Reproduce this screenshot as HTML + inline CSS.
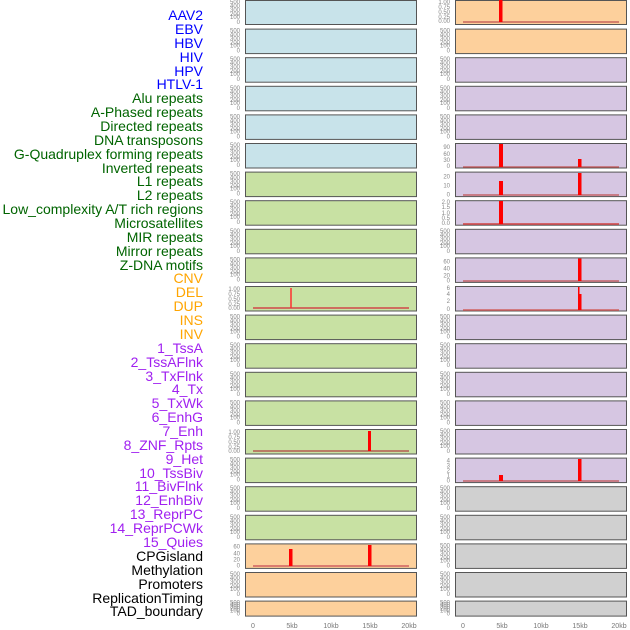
<!DOCTYPE html>
<html><head><meta charset="utf-8"><style>
html,body{margin:0;padding:0;background:#fff;}
svg{display:block;font-family:"Liberation Sans",sans-serif;}
.l text{font-size:14px;text-anchor:end;}
.t text{font-size:6px;fill:#888;text-anchor:end;}
.x text{font-size:7px;fill:#777;text-anchor:middle;}
.bl{fill:#c8e3ea}.gr{fill:#c8e1a3}.or{fill:#fdd09c}.pu{fill:#d6c6e2}.gy{fill:#d0d0d0}
rect.p{stroke:#555;stroke-width:1}
</style></head><body>
<svg width="630" height="630" viewBox="0 0 630 630">
<g class="l">
<g fill="#0000ff">
<text x="203" y="20">AAV2</text><text x="203" y="34">EBV</text><text x="203" y="48">HBV</text><text x="203" y="62">HIV</text><text x="203" y="76">HPV</text><text x="203" y="89">HTLV-1</text></g>
<g fill="#006400">
<text x="203" y="103">Alu repeats</text><text x="203" y="117">A-Phased repeats</text><text x="203" y="131">Directed repeats</text><text x="203" y="145">DNA transposons</text><text x="203" y="159">G-Quadruplex forming repeats</text><text x="203" y="173">Inverted repeats</text><text x="203" y="186">L1 repeats</text><text x="203" y="200">L2 repeats</text><text x="203" y="214">Low_complexity A/T rich regions</text><text x="203" y="228">Microsatellites</text><text x="203" y="242">MIR repeats</text><text x="203" y="256">Mirror repeats</text><text x="203" y="270">Z-DNA motifs</text></g>
<g fill="#ffa500">
<text x="203" y="283">CNV</text><text x="203" y="297">DEL</text><text x="203" y="311">DUP</text><text x="203" y="325">INS</text><text x="203" y="339">INV</text></g>
<g fill="#a020f0">
<text x="203" y="353">1_TssA</text><text x="203" y="367">2_TssAFlnk</text><text x="203" y="381">3_TxFlnk</text><text x="203" y="394">4_Tx</text><text x="203" y="408">5_TxWk</text><text x="203" y="422">6_EnhG</text><text x="203" y="436">7_Enh</text><text x="203" y="450">8_ZNF_Rpts</text><text x="203" y="464">9_Het</text><text x="203" y="478">10_TssBiv</text><text x="203" y="491">11_BivFlnk</text><text x="203" y="505">12_EnhBiv</text><text x="203" y="519">13_ReprPC</text><text x="203" y="533">14_ReprPCWk</text><text x="203" y="547">15_Quies</text></g>
<g fill="#000">
<text x="203" y="561">CPGisland</text><text x="203" y="575">Methylation</text><text x="203" y="589">Promoters</text><text x="203" y="603">ReplicationTiming</text><text x="203" y="616">TAD_boundary</text></g>
</g>

<!-- panels -->
<g>
<rect class="p bl" x="245.5" y="0.5" width="171" height="24"/>
<rect class="p bl" x="245.5" y="29.1" width="171" height="24.5"/>
<rect class="p bl" x="245.5" y="57.7" width="171" height="24.5"/>
<rect class="p bl" x="245.5" y="86.3" width="171" height="24.5"/>
<rect class="p bl" x="245.5" y="114.9" width="171" height="24.5"/>
<rect class="p bl" x="245.5" y="143.5" width="171" height="24.5"/>
<rect class="p gr" x="245.5" y="172.1" width="171" height="24.5"/>
<rect class="p gr" x="245.5" y="200.7" width="171" height="24.5"/>
<rect class="p gr" x="245.5" y="229.3" width="171" height="24.5"/>
<rect class="p gr" x="245.5" y="257.9" width="171" height="24.5"/>
<rect class="p gr" x="245.5" y="286.5" width="171" height="24.5"/>
<rect class="p gr" x="245.5" y="315.1" width="171" height="24.5"/>
<rect class="p gr" x="245.5" y="343.7" width="171" height="24.5"/>
<rect class="p gr" x="245.5" y="372.3" width="171" height="24.5"/>
<rect class="p gr" x="245.5" y="400.9" width="171" height="24.5"/>
<rect class="p gr" x="245.5" y="429.5" width="171" height="24.5"/>
<rect class="p gr" x="245.5" y="458.1" width="171" height="24.5"/>
<rect class="p gr" x="245.5" y="486.7" width="171" height="24.5"/>
<rect class="p gr" x="245.5" y="515.3" width="171" height="24.5"/>
<rect class="p or" x="245.5" y="543.9" width="171" height="24.5"/>
<rect class="p or" x="245.5" y="572.5" width="171" height="24.5"/>
<rect class="p or" x="245.5" y="601.1" width="171" height="15"/>

<rect class="p or" x="455.5" y="0.5" width="171" height="24"/>
<rect class="p or" x="455.5" y="29.1" width="171" height="24.5"/>
<rect class="p pu" x="455.5" y="57.7" width="171" height="24.5"/>
<rect class="p pu" x="455.5" y="86.3" width="171" height="24.5"/>
<rect class="p pu" x="455.5" y="114.9" width="171" height="24.5"/>
<rect class="p pu" x="455.5" y="143.5" width="171" height="24.5"/>
<rect class="p pu" x="455.5" y="172.1" width="171" height="24.5"/>
<rect class="p pu" x="455.5" y="200.7" width="171" height="24.5"/>
<rect class="p pu" x="455.5" y="229.3" width="171" height="24.5"/>
<rect class="p pu" x="455.5" y="257.9" width="171" height="24.5"/>
<rect class="p pu" x="455.5" y="286.5" width="171" height="24.5"/>
<rect class="p pu" x="455.5" y="315.1" width="171" height="24.5"/>
<rect class="p pu" x="455.5" y="343.7" width="171" height="24.5"/>
<rect class="p pu" x="455.5" y="372.3" width="171" height="24.5"/>
<rect class="p pu" x="455.5" y="400.9" width="171" height="24.5"/>
<rect class="p pu" x="455.5" y="429.5" width="171" height="24.5"/>
<rect class="p pu" x="455.5" y="458.1" width="171" height="24.5"/>
<rect class="p gy" x="455.5" y="486.7" width="171" height="24.5"/>
<rect class="p gy" x="455.5" y="515.3" width="171" height="24.5"/>
<rect class="p gy" x="455.5" y="543.9" width="171" height="24.5"/>
<rect class="p gy" x="455.5" y="572.5" width="171" height="24.5"/>
<rect class="p gy" x="455.5" y="601.1" width="171" height="15"/>
</g>

<!-- data -->
<g stroke-linecap="butt">
<!-- left DEL row -->
<line x1="253" y1="308" x2="409" y2="308" stroke="#d04848" stroke-width="1.5"/>
<line x1="291" y1="308" x2="291" y2="288" stroke="#ff3030" stroke-width="1.5"/>
<!-- left row 15 -->
<line x1="253" y1="451" x2="409" y2="451" stroke="#b04040" stroke-width="1.2"/>
<rect x="368" y="431" width="3" height="20" fill="#ff0000"/>
<!-- left CPG -->
<line x1="253" y1="566" x2="409" y2="566" stroke="#d06060" stroke-width="1.5"/>
<rect x="289" y="549" width="3.5" height="17" fill="#ff0000"/>
<rect x="368" y="545" width="3.5" height="21" fill="#ff0000"/>
<!-- right row 0 -->
<line x1="463" y1="22" x2="619" y2="22" stroke="#c05050" stroke-width="1.2"/>
<rect x="499" y="0" width="3.5" height="22" fill="#ff0000"/>
<!-- right row 5 -->
<line x1="463" y1="167" x2="619" y2="167" stroke="#c05050" stroke-width="1.2"/>
<rect x="499" y="144" width="4" height="23" fill="#ff0000"/>
<rect x="578" y="159" width="3.5" height="8" fill="#ff0000"/>
<!-- right row 6 -->
<line x1="463" y1="195" x2="619" y2="195" stroke="#c05050" stroke-width="1.2"/>
<rect x="499" y="181" width="4" height="14" fill="#ff0000"/>
<rect x="578" y="173" width="3.5" height="22" fill="#ff0000"/>
<!-- right row 7 -->
<line x1="463" y1="224" x2="619" y2="224" stroke="#d04040" stroke-width="1.5"/>
<rect x="499" y="201" width="4" height="23" fill="#ff0000"/>
<!-- right row 9 -->
<line x1="463" y1="281" x2="619" y2="281" stroke="#c05050" stroke-width="1.2"/>
<rect x="578" y="258.5" width="3.5" height="22.5" fill="#ff0000"/>
<!-- right row 10 -->
<line x1="463" y1="310" x2="619" y2="310" stroke="#d06060" stroke-width="1.5"/>
<rect x="578" y="287" width="1.5" height="23" fill="#ff0000"/>
<rect x="578" y="294" width="3.5" height="16" fill="#ff0000"/>
<!-- right row 16 -->
<line x1="463" y1="481" x2="619" y2="481" stroke="#c05050" stroke-width="1.2"/>
<rect x="499" y="475" width="4" height="6" fill="#ff0000"/>
<rect x="578" y="459" width="3.5" height="22" fill="#ff0000"/>
</g>

<!-- y tick labels -->
<g class="t">
<!-- left column default 0-500 -->
<g transform="translate(240,0)">
<text y="4">500</text><text y="8">400</text><text y="12">300</text><text y="16">200</text><text y="19">100</text><text y="24">0</text>
</g>
<g transform="translate(240,0)">
<g transform="translate(0,28.6)"><text y="4">500</text><text y="8">400</text><text y="12">300</text><text y="16">200</text><text y="19">100</text><text y="24">0</text></g>
<g transform="translate(0,57.2)"><text y="4">500</text><text y="8">400</text><text y="12">300</text><text y="16">200</text><text y="19">100</text><text y="24">0</text></g>
<g transform="translate(0,85.8)"><text y="4">500</text><text y="8">400</text><text y="12">300</text><text y="16">200</text><text y="19">100</text><text y="24">0</text></g>
<g transform="translate(0,114.4)"><text y="4">500</text><text y="8">400</text><text y="12">300</text><text y="16">200</text><text y="19">100</text><text y="24">0</text></g>
<g transform="translate(0,143)"><text y="4">500</text><text y="8">400</text><text y="12">300</text><text y="16">200</text><text y="19">100</text><text y="24">0</text></g>
<g transform="translate(0,171.6)"><text y="4">500</text><text y="8">400</text><text y="12">300</text><text y="16">200</text><text y="19">100</text><text y="24">0</text></g>
<g transform="translate(0,200.2)"><text y="4">500</text><text y="8">400</text><text y="12">300</text><text y="16">200</text><text y="19">100</text><text y="24">0</text></g>
<g transform="translate(0,228.8)"><text y="4">500</text><text y="8">400</text><text y="12">300</text><text y="16">200</text><text y="19">100</text><text y="24">0</text></g>
<g transform="translate(0,257.4)"><text y="4">500</text><text y="8">400</text><text y="12">300</text><text y="16">200</text><text y="19">100</text><text y="24">0</text></g>
<g transform="translate(0,286)"><text y="5">1.00</text><text y="10">0.75</text><text y="15">0.50</text><text y="20">0.25</text><text y="24">0.00</text></g>
<g transform="translate(0,314.6)"><text y="4">500</text><text y="8">400</text><text y="12">300</text><text y="16">200</text><text y="19">100</text><text y="24">0</text></g>
<g transform="translate(0,343.2)"><text y="4">500</text><text y="8">400</text><text y="12">300</text><text y="16">200</text><text y="19">100</text><text y="24">0</text></g>
<g transform="translate(0,371.8)"><text y="4">500</text><text y="8">400</text><text y="12">300</text><text y="16">200</text><text y="19">100</text><text y="24">0</text></g>
<g transform="translate(0,400.4)"><text y="4">500</text><text y="8">400</text><text y="12">300</text><text y="16">200</text><text y="19">100</text><text y="24">0</text></g>
<g transform="translate(0,429)"><text y="5">1.00</text><text y="10">0.75</text><text y="15">0.50</text><text y="20">0.25</text><text y="24">0.00</text></g>
<g transform="translate(0,457.6)"><text y="4">500</text><text y="8">400</text><text y="12">300</text><text y="16">200</text><text y="19">100</text><text y="24">0</text></g>
<g transform="translate(0,486.2)"><text y="4">500</text><text y="8">400</text><text y="12">300</text><text y="16">200</text><text y="19">100</text><text y="24">0</text></g>
<g transform="translate(0,514.8)"><text y="4">500</text><text y="8">400</text><text y="12">300</text><text y="16">200</text><text y="19">100</text><text y="24">0</text></g>
<g transform="translate(0,543.4)"><text y="5">60</text><text y="12">40</text><text y="18">20</text><text y="24">0</text></g>
<g transform="translate(0,572)"><text y="4">500</text><text y="8">400</text><text y="12">300</text><text y="16">200</text><text y="19">100</text><text y="24">0</text></g>
<g transform="translate(0,600.6)"><text y="4">500</text><text y="6">400</text><text y="8">300</text><text y="10">200</text><text y="12">100</text><text y="15">0</text></g>
</g>
<!-- right column -->
<g transform="translate(450,0)">
<g transform="translate(0,-1)"><text y="5">1.00</text><text y="10">0.75</text><text y="15">0.50</text><text y="20">0.25</text><text y="24">0.00</text></g>
<g transform="translate(0,28.6)"><text y="4">500</text><text y="8">400</text><text y="12">300</text><text y="16">200</text><text y="19">100</text><text y="24">0</text></g>
<g transform="translate(0,57.2)"><text y="4">500</text><text y="8">400</text><text y="12">300</text><text y="16">200</text><text y="19">100</text><text y="24">0</text></g>
<g transform="translate(0,85.8)"><text y="4">500</text><text y="8">400</text><text y="12">300</text><text y="16">200</text><text y="19">100</text><text y="24">0</text></g>
<g transform="translate(0,114.4)"><text y="4">500</text><text y="8">400</text><text y="12">300</text><text y="16">200</text><text y="19">100</text><text y="24">0</text></g>
<g transform="translate(0,143)"><text y="6">90</text><text y="13">60</text><text y="19">30</text><text y="25">0</text></g>
<g transform="translate(0,171.6)"><text y="7">20</text><text y="16">10</text><text y="25">0</text></g>
<g transform="translate(0,200.2)"><text y="4">2.0</text><text y="9">1.5</text><text y="15">1.0</text><text y="20">0.5</text><text y="25">0.0</text></g>
<g transform="translate(0,228.8)"><text y="4">500</text><text y="8">400</text><text y="12">300</text><text y="16">200</text><text y="19">100</text><text y="24">0</text></g>
<g transform="translate(0,257.4)"><text y="6">60</text><text y="13">40</text><text y="20">20</text><text y="25">0</text></g>
<g transform="translate(0,286)"><text y="4">6</text><text y="10">4</text><text y="17">2</text><text y="25">0</text></g>
<g transform="translate(0,314.6)"><text y="4">500</text><text y="8">400</text><text y="12">300</text><text y="16">200</text><text y="19">100</text><text y="24">0</text></g>
<g transform="translate(0,343.2)"><text y="4">500</text><text y="8">400</text><text y="12">300</text><text y="16">200</text><text y="19">100</text><text y="24">0</text></g>
<g transform="translate(0,371.8)"><text y="4">500</text><text y="8">400</text><text y="12">300</text><text y="16">200</text><text y="19">100</text><text y="24">0</text></g>
<g transform="translate(0,400.4)"><text y="4">500</text><text y="8">400</text><text y="12">300</text><text y="16">200</text><text y="19">100</text><text y="24">0</text></g>
<g transform="translate(0,429)"><text y="4">500</text><text y="8">400</text><text y="12">300</text><text y="16">200</text><text y="19">100</text><text y="24">0</text></g>
<g transform="translate(0,457.6)"><text y="5">4</text><text y="10">3</text><text y="15">2</text><text y="20">1</text><text y="25">0</text></g>
<g transform="translate(0,486.2)"><text y="4">500</text><text y="8">400</text><text y="12">300</text><text y="16">200</text><text y="19">100</text><text y="24">0</text></g>
<g transform="translate(0,514.8)"><text y="4">500</text><text y="8">400</text><text y="12">300</text><text y="16">200</text><text y="19">100</text><text y="24">0</text></g>
<g transform="translate(0,543.4)"><text y="4">500</text><text y="8">400</text><text y="12">300</text><text y="16">200</text><text y="19">100</text><text y="24">0</text></g>
<g transform="translate(0,572)"><text y="4">500</text><text y="8">400</text><text y="12">300</text><text y="16">200</text><text y="19">100</text><text y="24">0</text></g>
<g transform="translate(0,600.6)"><text y="4">500</text><text y="6">400</text><text y="8">300</text><text y="10">200</text><text y="12">100</text><text y="15">0</text></g>
</g>
</g>

<!-- x axis -->
<g class="x">
<text x="253" y="628">0</text><text x="292" y="628">5kb</text><text x="331" y="628">10kb</text><text x="370" y="628">15kb</text><text x="409" y="628">20kb</text>
<text x="463" y="628">0</text><text x="502" y="628">5kb</text><text x="541" y="628">10kb</text><text x="580" y="628">15kb</text><text x="619" y="628">20kb</text>
</g>
</svg>
</body></html>
